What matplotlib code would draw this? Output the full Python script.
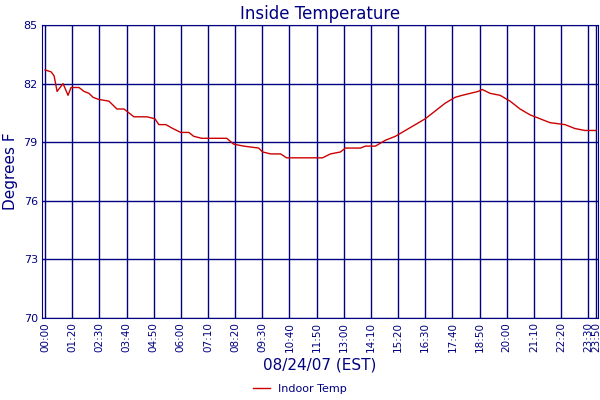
import matplotlib
matplotlib.use("Agg")
import matplotlib.pyplot as plt

px = [44,50,53,56,62,67,70,78,83,88,92,97,108,116,123,133,146,154,158,165,172,180,188,193,201,226,233,243,258,262,270,280,286,322,330,340,345,360,365,375,385,395,405,415,425,435,445,455,462,470,478,482,490,500,510,520,530,540,550,565,575,585,596]
temps = [82.7,82.6,82.4,81.6,82.0,81.4,81.8,81.8,81.6,81.5,81.3,81.2,81.1,80.7,80.7,80.3,80.3,80.2,79.9,79.9,79.7,79.5,79.5,79.3,79.2,79.2,78.9,78.8,78.7,78.5,78.4,78.4,78.2,78.2,78.4,78.5,78.7,78.7,78.8,78.8,79.1,79.3,79.6,79.9,80.2,80.6,81.0,81.3,81.4,81.5,81.6,81.7,81.5,81.4,81.1,80.7,80.4,80.2,80.0,79.9,79.7,79.6,79.6]
minutes = [10 + (p - 44) / 0.3887 for p in px]
tick_minutes = [10] + list(range(80, 1411, 70)) + [1430]
tick_labels = ["00:00"] + ["%02d:%02d" % (m // 60, m % 60) for m in tick_minutes[1:]]
y_ticks = [70, 73, 76, 79, 82, 85]

navy = "#000080"
fig = plt.figure(figsize=(6, 4), dpi=100)
ax = fig.add_axes([0.07, 0.205, 0.927, 0.7325])
ax.plot(minutes, temps, color="#cc0000", lw=1, label="Indoor Temp")
ax.set_xlim(2, 1436)
ax.set_ylim(70, 85)
ax.set_xticks(tick_minutes)
ax.set_xticklabels(tick_labels, rotation=90, fontsize=7.5, color=navy)
ax.set_yticks(y_ticks)
ax.set_yticklabels([str(v) for v in y_ticks], fontsize=8, color=navy)
ax.grid(True, color=navy, lw=1)
ax.tick_params(length=0, pad=3)
for s in ax.spines.values():
    s.set_color(navy)
ax.set_title("Inside Temperature", color=navy, fontsize=12, pad=4)
ax.set_ylabel("Degrees F", color=navy, fontsize=11)
ax.set_xlabel("08/24/07 (EST)", color=navy, fontsize=11, labelpad=4)
fig.legend(loc="lower center", bbox_to_anchor=(0.5, -0.01), frameon=False,
           fontsize=8, labelcolor=navy, handlelength=1.5)
fig.savefig("out.png", dpi=100)
